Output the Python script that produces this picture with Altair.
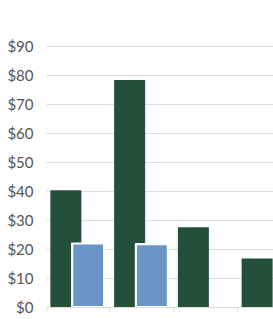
import altair as alt
import pandas as pd

categories = ["A", "B", "C", "D"]
series_a = [40.3, 78.3, 27.5, 16.7]
series_b = [21.9, 21.7, None, None]

df_a = pd.DataFrame({"cat": categories, "value": series_a})
df_b = pd.DataFrame({"cat": categories, "value": series_b}).dropna()

x = alt.X("cat:N", scale=alt.Scale(domain=categories, range=[0, 255], paddingInner=0, paddingOuter=0),
          axis=alt.Axis(title=None, labels=False, bandPosition=0, tickSize=4, tickColor="#dddddd",
                        domain=False, grid=False))
y = alt.Y("value:Q", scale=alt.Scale(domain=[0, 90], nice=False),
          axis=alt.Axis(title=None, values=list(range(0, 100, 10)), format="$,.0f",
                        tickSize=0, labelPadding=13, domain=False, gridColor="#dddddd",
                        labelFont="Lato", labelFontSize=15, labelColor="#555555"))

dark = alt.Chart(df_a).mark_bar(width=31, xOffset=-12, color="#245039", clip=True).encode(x=x, y=y)
blue = alt.Chart(df_b).mark_bar(width=32, xOffset=10.3, color="#6a95c7", stroke="white",
                                strokeWidth=2.2, clip=True).encode(x=x, y=y)

chart = alt.layer(dark, blue).properties(
    width=227, height=261,
    autosize=alt.AutoSizeParams(type="none"),
    padding={"left": 46, "top": 46, "right": 0, "bottom": 12},
).configure_view(stroke=None)

chart.save("out.html", embed_options={"renderer": "svg", "actions": False})
